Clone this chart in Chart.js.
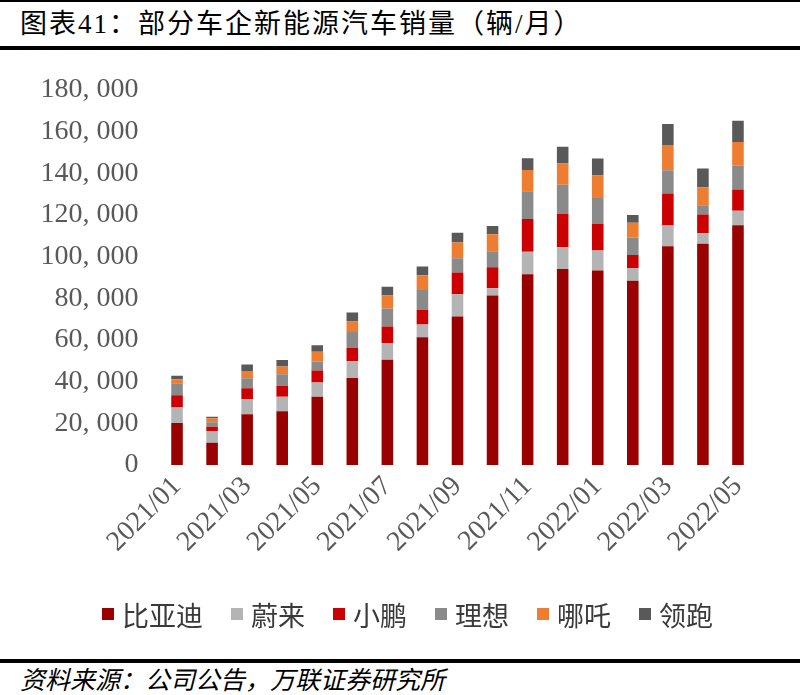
<!DOCTYPE html>
<html>
<head>
<meta charset="utf-8">
<script src="https://cdn.jsdelivr.net/npm/chart.js@4/dist/chart.umd.min.js"></script>
<style>
    body { margin: 0; width: 800px; height: 695px; position: relative; background: #fff; overflow: hidden; }
    #topLine { position: absolute; left: 0; top: 0; width: 800px; height: 2px; background: #000; }
    #title { position: absolute; left: 20px; top: 6px; font-family: "Liberation Serif", "Noto Sans CJK SC", serif; font-size: 27px; line-height: 36px; letter-spacing: 2px; color: #000; white-space: nowrap; }
    #titleRule { position: absolute; left: 0; top: 46px; width: 800px; height: 4px; background: #000; }
    #chartWrap { position: absolute; left: 0; top: 52px; width: 800px; height: 603px; }
    #legend { position: absolute; left: 102px; top: 598px; height: 32px; display: flex; align-items: center; gap: 28px; font-family: "Noto Sans CJK SC", serif; font-size: 27px; color: #3a3a3a; white-space: nowrap; }
    #legend .item { display: flex; align-items: center; }
    #legend .box { width: 12px; height: 12px; margin-right: 8px; }
    #sourceRule { position: absolute; left: 0; top: 659px; width: 800px; height: 4px; background: #000; }
    #source { position: absolute; left: 20px; top: 667px; font-family: "Liberation Serif", "Noto Sans CJK SC", serif; font-size: 25px; line-height: 28px; font-style: italic; color: #000; white-space: nowrap; }
</style>
</head>
<body>
<div id="topLine"></div>
<div id="title">图表41：部分车企新能源汽车销量（辆/月）</div>
<div id="titleRule"></div>
<div id="chartWrap"><canvas id="salesChart" width="800" height="603"></canvas></div>
<div id="legend"></div>
<div id="sourceRule"></div>
<div id="source">资料来源：公司公告，万联证券研究所</div>

<script>
const months = ["2021/01", "2021/02", "2021/03", "2021/04", "2021/05", "2021/06", "2021/07", "2021/08", "2021/09",
    "2021/10", "2021/11", "2021/12", "2022/01", "2022/02", "2022/03", "2022/04", "2022/05"];

// monthly sales, units
const byd   = [20200, 10700, 24400, 25800, 32800, 41700, 50500, 61300, 71300, 81300, 91500, 94000, 93300, 88400, 105000, 106200, 115000];
const nio   = [7400, 5600, 7200, 7000, 6800, 8100, 8000, 6100, 10600, 3500, 10800, 10500, 9600, 6100, 9900, 5000, 7000];
const xpeng = [5900, 2000, 5200, 5100, 5700, 6500, 7900, 7100, 10400, 10100, 15700, 16000, 12700, 6300, 15400, 9000, 10200];
const li    = [5700, 2200, 4800, 5600, 4400, 7500, 8700, 9400, 6900, 7600, 13300, 14000, 12500, 8300, 11100, 4400, 11500];
const neta  = [1900, 1900, 3500, 3800, 4600, 5000, 6200, 7100, 7600, 8200, 10200, 10100, 10800, 7100, 12100, 8700, 11300];
const leap  = [1700, 700, 3100, 3100, 3100, 4400, 4200, 4200, 4600, 3900, 5700, 8100, 8200, 3700, 10100, 9000, 10100];

const yTicks = [0, 20000, 40000, 60000, 80000, 100000, 120000, 140000, 160000, 180000];

const tickColor = "#595959";
const serif = "'Liberation Serif', 'Noto Sans CJK SC', serif";

function series(label, data, color) {
    return {
        label: label,
        data: data,
        backgroundColor: color,
        borderWidth: 0,
        barPercentage: 0.33,
        categoryPercentage: 1
    };
}

const datasets = [
    series("比亚迪", byd, "#990000"),
    series("蔚来", nio, "#b4b4b4"),
    series("小鹏", xpeng, "#cc0000"),
    series("理想", li, "#8a8a8a"),
    series("哪吒", neta, "#ed7d31"),
    series("领跑", leap, "#595959")
];

const ctx = document.getElementById("salesChart").getContext("2d");

new Chart(ctx, {
    type: "bar",
    data: { labels: months, datasets: datasets },
    options: {
        responsive: false,
        animation: false,
        layout: {
            padding: { top: 32, right: 44.5, bottom: 84, left: 0 }
        },
        scales: {
            x: {
                stacked: true,
                grid: { display: false, drawTicks: false },
                border: { display: false },
                ticks: {
                    autoSkip: false,
                    minRotation: 45,
                    maxRotation: 45,
                    padding: 5,
                    color: tickColor,
                    font: { family: serif, size: 28 },
                    callback: (val, i) => (i % 2 === 0 ? months[i] : "")
                },
                afterFit: scale => { scale.height = 106; }
            },
            y: {
                stacked: true,
                min: 0,
                max: 180000,
                grid: { display: false, drawTicks: false },
                border: { display: false },
                afterBuildTicks: scale => { scale.ticks = yTicks.map(v => ({ value: v })); },
                ticks: {
                    padding: 21,
                    color: tickColor,
                    font: { family: serif, size: 28 },
                    callback: v => (v === 0 ? "0" : (v / 1000) + ", 000")
                },
                afterFit: scale => { scale.width = 159.5; }
            }
        },
        plugins: {
            tooltip: { enabled: false },
            legend: { display: false }
        }
    }
});

// legend built from the same datasets
const legendEl = document.getElementById("legend");
datasets.forEach(ds => {
    legendEl.innerHTML += `<div class="item"><span class="box" style="background:${ds.backgroundColor}"></span>${ds.label}</div>`;
});
</script>
</body>
</html>
